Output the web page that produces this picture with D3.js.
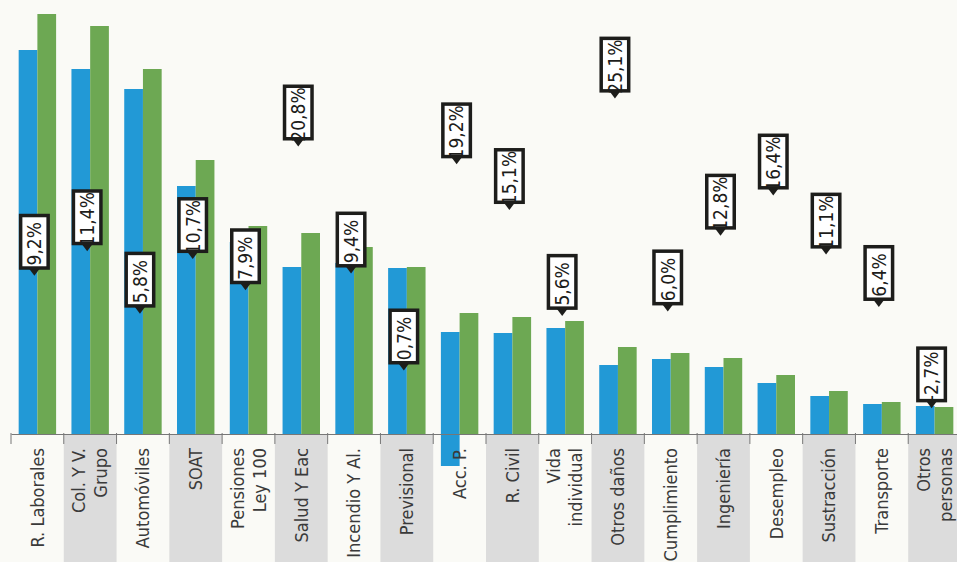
<!DOCTYPE html>
<html>
<head>
<meta charset="utf-8">
<script src="https://cdn.jsdelivr.net/npm/d3@7"></script>
<style>
  html, body { margin: 0; padding: 0; background: #fafaf6; }
  svg { display: block; }
</style>
</head>
<body>
<div id="chart-area"></div>
<script>
// Premium volumes by line, previous vs current period, and growth in %
const categories = [
    ['R. Laborales'], ['Col. Y V.', 'Grupo'], ['Automóviles'], ['SOAT'],
    ['Pensiones', 'Ley 100'], ['Salud Y Eac'], ['Incendio Y Al.'], ['Previsional'],
    ['Acc. P.'], ['R. Civil'], ['Vida', 'individual'], ['Otros daños'],
    ['Cumplimiento'], ['Ingeniería'], ['Desempleo'], ['Sustracción'],
    ['Transporte'], ['Otros', 'personas']
];
const prevValues = [384, 365, 345, 248, 192, 167, 171, 166, 102, 101, 106, 69, 75, 67, 51, 38, 30, 28];
const currValues = [420, 408, 365, 274, 208, 201, 187, 167, 121, 117, 113, 87, 81, 76, 59, 43, 32, 27];
// the blue Acc. P. bar in the source hangs below the baseline
const prevFloor = [0, 0, 0, 0, 0, 0, 0, 0, -32, 0, 0, 0, 0, 0, 0, 0, 0, 0];
const growth = [9.2, 11.4, 5.8, 10.7, 7.9, 20.8, 9.4, 0.7, 19.2, 15.1, 5.6, 25.1, 6.0, 12.8, 16.4, 11.1, 6.4, -2.7];
const growthLabels = ['9,2%', '11,4%', '5,8%', '10,7%', '7,9%', '20,8%', '9,4%', '0,7%', '19,2%',
    '15,1%', '5,6%', '25,1%', '6,0%', '12,8%', '16,4%', '11,1%', '6,4%', '-2,7%'];

const width = 957;
const height = 562;
const baseY = 434;
const font = '"DejaVu Sans Condensed", "DejaVu Sans", sans-serif';

const svg = d3.select('#chart-area')
    .append('svg')
    .attr('width', width)
    .attr('height', height);

svg.append('rect')
    .attr('width', width)
    .attr('height', height)
    .attr('fill', '#fafaf6');

const ids = categories.map((c, i) => i);

// Scales
const x = d3.scaleBand()
    .domain(ids)
    .range([11, 961]);

const xSeries = d3.scaleBand()
    .domain(['prev', 'curr'])
    .range([0, x.bandwidth()])
    .paddingOuter(0.41);

const y = d3.scaleLinear()
    .domain([0, 420])
    .range([baseY, 14]);

const yGrowth = d3.scaleLinear()
    .domain([-5, 30])
    .range([baseY, 44]);

const color = { prev: '#2299d6', curr: '#6da853' };

// Alternating grey bands under the axis
svg.selectAll('.band-bg')
    .data(ids.filter((i) => i % 2 === 1))
    .enter()
    .append('rect')
    .attr('class', 'band-bg')
    .attr('x', (i) => x(i))
    .attr('y', baseY)
    .attr('width', x.bandwidth())
    .attr('height', height - baseY)
    .attr('fill', '#dcdcdc');

// Bars
const groups = svg.selectAll('.group')
    .data(ids)
    .enter()
    .append('g')
    .attr('class', 'group')
    .attr('transform', (i) => `translate(${x(i)}, 0)`);

groups.append('rect')
    .attr('x', xSeries('prev'))
    .attr('width', xSeries.bandwidth())
    .attr('y', (i) => y(prevValues[i]))
    .attr('height', (i) => y(prevFloor[i]) - y(prevValues[i]))
    .attr('fill', color.prev);

groups.append('rect')
    .attr('x', xSeries('curr'))
    .attr('width', xSeries.bandwidth())
    .attr('y', (i) => y(currValues[i]))
    .attr('height', (i) => y(0) - y(currValues[i]))
    .attr('fill', color.curr);

// Axis
const xAxisCall = d3.axisBottom(x)
    .tickValues([])
    .tickSizeOuter(0);
const xAxisGroup = svg.append('g')
    .attr('transform', `translate(0, ${baseY})`)
    .call(xAxisCall);
xAxisGroup.select('.domain').attr('stroke', '#777');

svg.selectAll('.tick-mark')
    .data(ids)
    .enter()
    .append('line')
    .attr('class', 'tick-mark')
    .attr('x1', (i) => x(i))
    .attr('x2', (i) => x(i))
    .attr('y1', baseY - 1)
    .attr('y2', baseY + 10)
    .attr('stroke', '#777')
    .attr('stroke-width', 1);

// Category labels
const catLabels = svg.selectAll('.cat-label')
    .data(ids)
    .enter()
    .append('text')
    .attr('class', 'cat-label')
    .attr('transform', (i) => `translate(${x(i) + x.bandwidth() / 2}, ${baseY + 14}) rotate(-90)`)
    .attr('text-anchor', 'end')
    .attr('font-family', font)
    .attr('font-size', '18px')
    .attr('fill', '#3a3a3a');

catLabels.each(function (i) {
    const lines = categories[i];
    const t = d3.select(this);
    lines.forEach((line, k) => {
        t.append('tspan')
            .attr('x', 0)
            .attr('y', (k - (lines.length - 1) / 2) * 22)
            .attr('dy', '0.35em')
            .text(line);
    });
});

// Growth callouts
const boxW = 31;
const boxH = 56;
const callouts = svg.selectAll('.callout')
    .data(ids)
    .enter()
    .append('g')
    .attr('class', 'callout')
    .attr('transform', (i) => `translate(${x(i) + x.bandwidth() / 2 - 3}, ${yGrowth(growth[i])})`);

callouts.append('path')
    .attr('d', 'M-6,-8 L6,-8 L0,0 Z')
    .attr('fill', '#1d1d1b');

callouts.append('rect')
    .attr('x', -boxW / 2 + 1.75)
    .attr('y', -6 - boxH + 1.75)
    .attr('width', boxW - 3.5)
    .attr('height', boxH - 3.5)
    .attr('fill', '#fff')
    .attr('stroke', '#1d1d1b')
    .attr('stroke-width', 3.5);

callouts.append('text')
    .attr('transform', `translate(0, ${-6 - boxH / 2 + 2}) rotate(-90)`)
    .attr('text-anchor', 'middle')
    .attr('dy', '0.36em')
    .attr('font-family', font)
    .attr('font-size', '19px')
    .attr('fill', '#1d1d1b')
    .text((i) => growthLabels[i]);
</script>
</body>
</html>
